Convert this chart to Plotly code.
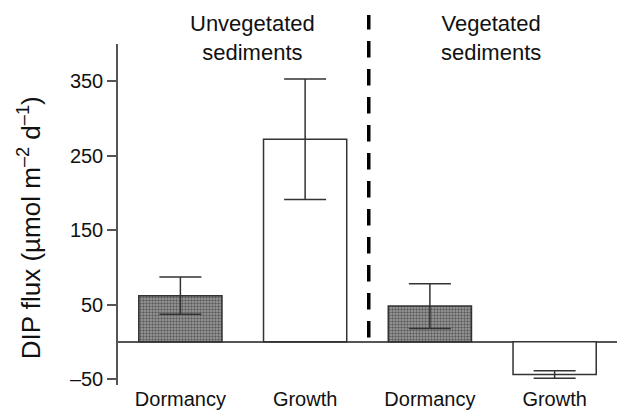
import plotly.graph_objects as go

categories = ["Dormancy", "Growth", "Dormancy", "Growth"]
x_pos = [0, 1, 2, 3]
flux = [62, 272, 48, -44]
flux_err = [25, 81, 30, 5]
seasons = ["dormancy", "growth", "dormancy", "growth"]
group_labels = ["Unvegetated<br>sediments", "Vegetated<br>sediments"]
group_label_x = [0.58, 2.49]
y_ticks = [-50, 50, 150, 250, 350]
y_tick_text = ["–50", "50", "150", "250", "350"]
y_title = "DIP flux (µmol m<sup>–2</sup> d<sup>–1</sup>)"

FONT = "Liberation Sans, Arial, Helvetica, sans-serif"
DARK = "#333333"

fig = go.Figure()

dorm_idx = [i for i, s in enumerate(seasons) if s == "dormancy"]
grow_idx = [i for i, s in enumerate(seasons) if s == "growth"]

fig.add_trace(go.Bar(
    x=[x_pos[i] for i in dorm_idx],
    y=[flux[i] for i in dorm_idx],
    width=0.667,
    marker=dict(
        color="#9a9a9a",
        line=dict(color=DARK, width=1.5),
        pattern=dict(shape=".", fgcolor="#1a1a1a", bgcolor="#a0a0a0", size=3, solidity=0.5),
    ),
    error_y=dict(type="data", array=[flux_err[i] for i in dorm_idx], color=DARK, thickness=1.5, width=21),
    showlegend=False,
))

fig.add_trace(go.Bar(
    x=[x_pos[i] for i in grow_idx],
    y=[flux[i] for i in grow_idx],
    width=0.667,
    marker=dict(color="white", line=dict(color=DARK, width=1.5)),
    error_y=dict(type="data", array=[flux_err[i] for i in grow_idx], color=DARK, thickness=1.5, width=21),
    showlegend=False,
))

# dashed separator between groups
fig.add_shape(type="line", xref="x", yref="paper", x0=1.51, x1=1.51, y0=0.1395, y1=1.085,
              line=dict(color="black", width=3.5, dash="16.5px,11.5px"), layer="above")

for lbl, gx in zip(group_labels, group_label_x):
    fig.add_annotation(x=gx, y=1.103, xref="x", yref="paper", text=lbl, showarrow=False,
                       xanchor="center", yanchor="top", align="center",
                       font=dict(family=FONT, size=22, color="#111"))

fig.add_annotation(x=-0.178, y=0.46, xref="paper", yref="paper", text=y_title, showarrow=False,
                   textangle=-90, xanchor="center", yanchor="middle",
                   font=dict(family=FONT, size=26, color="#111"))

fig.update_layout(
    width=617, height=411,
    margin=dict(l=118, r=0, t=44, b=26, autoexpand=False),
    paper_bgcolor="white", plot_bgcolor="white",
    font=dict(family=FONT, size=20, color="#111"),
    bargap=0.333,
    xaxis=dict(
        range=[-0.5, 3.5], tickvals=x_pos, ticktext=categories,
        showline=False, showgrid=False, zeroline=False, ticks="",
        tickfont=dict(size=20), automargin=False, fixedrange=True,
    ),
    yaxis=dict(
        range=[-58, 400], tickvals=y_ticks, ticktext=y_tick_text,
        showline=True, linecolor="#555", linewidth=1.5,
        ticks="outside", ticklen=9, tickwidth=1.5, tickcolor="#555",
        showgrid=False, zeroline=True, zerolinecolor="#555", zerolinewidth=1.5,
        tickfont=dict(size=20), automargin=False,
    ),
)

fig.write_html(
    "out.html",
    config={"displayModeBar": False},
    post_script="document.body.style.margin='0';document.body.style.overflow='hidden';",
)
